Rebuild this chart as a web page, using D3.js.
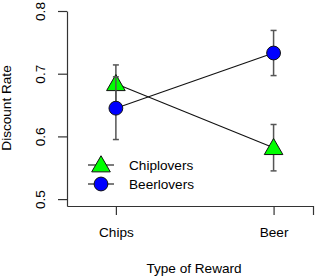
<!DOCTYPE html>
<html>
<head>
<meta charset="utf-8">
<script src="https://cdn.jsdelivr.net/npm/d3@7"></script>
<style>
  body { margin: 0; background: #fff; }
  svg text { font-family: "Liberation Sans", Arial, Helvetica, sans-serif; fill: #000; }
</style>
</head>
<body>
<div id="chart"></div>
<script>
// data
var categories = ["Chips", "Beer"];
var seriesNames = ["Chiplovers", "Beerlovers"];
var chiploversMean = [0.684, 0.582];
var chiploversErr = [0.030, 0.037];
var beerloversMean = [0.645, 0.733];
var beerloversErr = [0.050, 0.036];
var yTicks = [0.5, 0.6, 0.7, 0.8];

var w = 315, h = 278;
var fs = 13.6;

var svg = d3.select("#chart").append("svg")
    .attr("width", w)
    .attr("height", h);

// category positions 1 and 2, plot region a bit wider
var x = d3.scaleLinear().domain([0.69, 2.25]).range([67, 313]);
var y = d3.scaleLinear().domain([0.489, 0.8]).range([206, 11]);

var series = [
  {name: seriesNames[0], mean: chiploversMean, err: chiploversErr, fill: "#00ff00", shape: d3.symbolTriangle, size: 150},
  {name: seriesNames[1], mean: beerloversMean, err: beerloversErr, fill: "#0000ff", shape: d3.symbolCircle, size: 150}
];

// axes (R style, bty = "l")
var xAxis = d3.axisBottom(x)
    .tickValues([1, 2, 2.25])
    .tickFormat(function(d) { return d === 2.25 ? "" : categories[d - 1]; })
    .tickSize(9)
    .tickSizeOuter(0);

svg.append("g")
    .attr("transform", "translate(0," + y.range()[0] + ")")
    .call(xAxis)
    .call(function(g) {
      g.selectAll("path, line").attr("stroke", "#333").attr("stroke-width", 1.2);
      g.selectAll("text").attr("font-size", fs).attr("dy", null).attr("y", 31);
    });

var yAxis = d3.axisLeft(y)
    .tickValues(yTicks)
    .tickFormat(d3.format(".1f"))
    .tickSize(9)
    .tickSizeOuter(0);

svg.append("g")
    .attr("transform", "translate(" + x.range()[0] + ",0)")
    .call(yAxis)
    .call(function(g) {
      g.selectAll("path, line").attr("stroke", "#333").attr("stroke-width", 1.2);
      g.selectAll("text")
        .attr("font-size", fs)
        .attr("text-anchor", "middle")
        .attr("x", null).attr("dy", null)
        .attr("transform", "translate(-22,0) rotate(-90)");
    });

svg.append("text")
    .attr("x", 194).attr("y", 272.5)
    .attr("text-anchor", "middle")
    .attr("font-size", fs)
    .text("Type of Reward");

svg.append("text")
    .attr("transform", "translate(11,108) rotate(-90)")
    .attr("text-anchor", "middle")
    .attr("font-size", fs)
    .text("Discount Rate");

var line = d3.line()
    .x(function(d, i) { return x(i + 1); })
    .y(function(d) { return y(d); });

series.forEach(function(s) {
  var g = svg.append("g");

  // error bars
  s.mean.forEach(function(m, i) {
    var cx = x(i + 1);
    g.append("line")
      .attr("x1", cx).attr("x2", cx)
      .attr("y1", y(m - s.err[i])).attr("y2", y(m + s.err[i]))
      .attr("stroke", "#555").attr("stroke-width", 1.5);
    [m - s.err[i], m + s.err[i]].forEach(function(v) {
      g.append("line")
        .attr("x1", cx - 3).attr("x2", cx + 3)
        .attr("y1", y(v)).attr("y2", y(v))
        .attr("stroke", "#555").attr("stroke-width", 1.5);
    });
  });

  g.append("path")
    .attr("d", line(s.mean))
    .attr("fill", "none")
    .attr("stroke", "#111")
    .attr("stroke-width", 1.1);

  g.selectAll(".pt")
    .data(s.mean)
    .enter().append("path")
    .attr("d", d3.symbol().type(s.shape).size(s.size))
    .attr("transform", function(d, i) {
      var off = s.shape === d3.symbolTriangle ? 1.5 : 0;
      return "translate(" + x(i + 1) + "," + (y(d) + off) + ")";
    })
    .attr("fill", s.fill)
    .attr("stroke", "#111")
    .attr("stroke-width", 1);
});

// legend
var legend = svg.append("g");
series.forEach(function(s, i) {
  var ly = 165 + i * 19;
  legend.append("line")
    .attr("x1", 88).attr("x2", 114)
    .attr("y1", ly).attr("y2", ly)
    .attr("stroke", "#111").attr("stroke-width", 1.1);
  legend.append("path")
    .attr("d", d3.symbol().type(s.shape).size(s.size))
    .attr("transform", "translate(101," + (ly + (s.shape === d3.symbolTriangle ? 1.5 : 0)) + ")")
    .attr("fill", s.fill)
    .attr("stroke", "#111")
    .attr("stroke-width", 1);
  legend.append("text")
    .attr("x", 129).attr("y", ly + 5)
    .attr("font-size", fs)
    .text(s.name);
});
</script>
</body>
</html>
